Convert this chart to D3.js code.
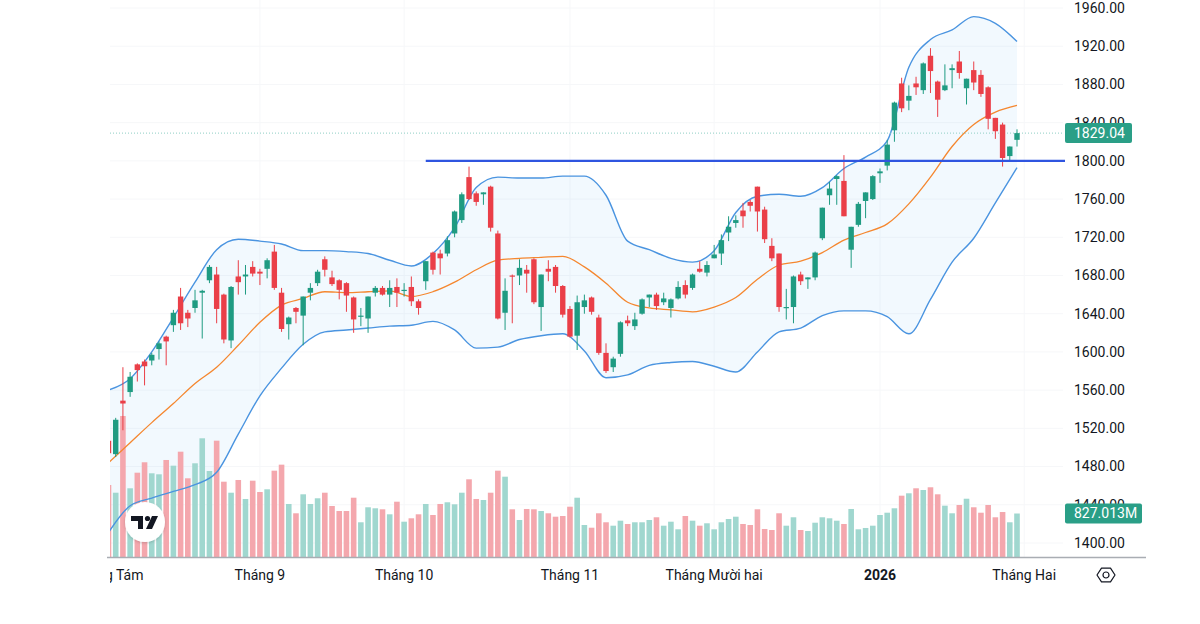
<!DOCTYPE html>
<meta charset="utf-8">
<style>
    body { margin: 0; background: #fff; }
    svg text { font-family: Roboto, "DejaVu Sans", sans-serif; fill: #131722; }
</style>
<svg id="chart"></svg>
<script src="https://d3js.org/d3.v7.min.js"></script>
<script>

    var width = 1200,
        height = 624;

    // daily candles, index 0 = 1 Aug 2025 (cut by the left edge), index 126 = 30 Jan 2026
    var opens = [1507, 1493, 1549, 1558, 1587, 1590, 1591, 1603, 1616, 1628,
        1658, 1641, 1646, 1662, 1675, 1681, 1660, 1612, 1679, 1679,
        1689, 1684, 1687, 1705, 1662, 1629, 1646, 1638, 1662, 1672,
        1697, 1678, 1675, 1672, 1657, 1637, 1635, 1662, 1667, 1660,
        1668, 1664, 1668, 1653, 1674, 1704, 1703, 1703, 1724, 1738,
        1783, 1766, 1765, 1773, 1724, 1641, 1680, 1680, 1686, 1697,
        1647, 1687, 1689, 1669, 1645, 1617, 1647, 1657, 1636, 1599,
        1584, 1598, 1633, 1627, 1640, 1657, 1660, 1652, 1646, 1656,
        1670, 1667, 1687, 1683, 1698, 1703, 1725, 1735, 1748, 1757,
        1773, 1749, 1711, 1703, 1646, 1647, 1681, 1676, 1678, 1719,
        1764, 1781, 1779, 1707, 1733, 1758, 1760, 1787, 1795, 1832,
        1881, 1863, 1881, 1874, 1910, 1883, 1874, 1895, 1904, 1876,
        1895, 1890, 1877, 1845, 1838, 1805, 1822];
    var highs = [1510, 1531, 1584, 1579, 1588, 1592, 1599, 1611, 1617, 1644,
        1667, 1644, 1665, 1665, 1691, 1689, 1661, 1669, 1696, 1691,
        1695, 1687, 1698, 1712, 1667, 1637, 1647, 1658, 1672, 1686,
        1700, 1685, 1676, 1673, 1658, 1646, 1658, 1669, 1669, 1675,
        1677, 1672, 1679, 1655, 1695, 1705, 1707, 1721, 1748, 1767,
        1794, 1768, 1767, 1774, 1727, 1677, 1681, 1697, 1691, 1698,
        1681, 1696, 1691, 1670, 1648, 1659, 1660, 1658, 1639, 1609,
        1595, 1632, 1638, 1641, 1656, 1660, 1662, 1662, 1656, 1674,
        1675, 1682, 1695, 1695, 1712, 1723, 1742, 1743, 1756, 1759,
        1773, 1752, 1719, 1703, 1666, 1680, 1684, 1678, 1705, 1751,
        1778, 1785, 1806, 1731, 1757, 1767, 1785, 1792, 1822, 1862,
        1887, 1879, 1888, 1903, 1918, 1884, 1901, 1901, 1915, 1886,
        1904, 1895, 1878, 1845, 1840, 1815, 1833];
    var lows = [1492, 1490, 1518, 1553, 1569, 1565, 1586, 1592, 1586, 1621,
        1623, 1626, 1641, 1614, 1672, 1630, 1609, 1604, 1660, 1660,
        1679, 1670, 1677, 1665, 1621, 1613, 1630, 1607, 1654, 1669,
        1679, 1669, 1655, 1642, 1620, 1627, 1620, 1658, 1659, 1647,
        1647, 1658, 1648, 1639, 1665, 1681, 1681, 1700, 1720, 1735,
        1759, 1753, 1754, 1726, 1634, 1623, 1630, 1670, 1662, 1650,
        1622, 1674, 1662, 1636, 1615, 1602, 1640, 1639, 1597, 1578,
        1579, 1595, 1627, 1623, 1639, 1647, 1644, 1649, 1636, 1655,
        1656, 1665, 1683, 1679, 1698, 1691, 1716, 1730, 1730, 1747,
        1726, 1714, 1695, 1642, 1634, 1630, 1670, 1666, 1675, 1717,
        1754, 1754, 1742, 1688, 1731, 1740, 1759, 1777, 1790, 1820,
        1851, 1853, 1869, 1870, 1871, 1846, 1873, 1876, 1886, 1859,
        1874, 1867, 1833, 1823, 1794, 1799, 1815];
    var closes = [1494, 1529, 1546, 1574, 1581, 1585, 1597, 1609, 1611, 1641,
        1630, 1635, 1654, 1664, 1689, 1645, 1613, 1668, 1673, 1681,
        1682, 1682, 1696, 1667, 1624, 1636, 1642, 1658, 1667, 1684,
        1686, 1671, 1665, 1659, 1634, 1638, 1658, 1667, 1660, 1667,
        1662, 1665, 1653, 1646, 1695, 1686, 1698, 1717, 1747, 1765,
        1760, 1757, 1767, 1730, 1635, 1664, 1679, 1688, 1682, 1652,
        1681, 1684, 1669, 1639, 1616, 1652, 1654, 1642, 1599, 1580,
        1593, 1631, 1630, 1634, 1655, 1660, 1648, 1656, 1655, 1668,
        1660, 1681, 1684, 1691, 1702, 1717, 1731, 1738, 1742, 1753,
        1747, 1718, 1698, 1647, 1647, 1679, 1674, 1678, 1704, 1751,
        1771, 1784, 1742, 1731, 1755, 1767, 1784, 1789, 1817, 1861,
        1855, 1868, 1877, 1902, 1894, 1864, 1879, 1897, 1892, 1886,
        1882, 1870, 1844, 1831, 1803, 1815, 1829.04];
    // volume in millions
    var volumes = [1363, 1218, 2660, 1301, 1594, 1790, 1583, 1564, 1833, 1726,
        1989, 1489, 1771, 2241, 1626, 2196, 1425, 1218, 1457, 1100,
        1444, 1231, 1282, 1632, 1745, 1006, 831, 1188, 1006, 1113,
        1218, 968, 874, 874, 1124, 662, 944, 925, 906, 812,
        1049, 673, 737, 812, 1006, 799, 1006, 1038, 1000, 1218,
        1470, 1100, 1081, 1218, 1632, 1519, 906, 705, 912, 906,
        874, 831, 767, 780, 955, 1124, 611, 560, 831, 662,
        598, 692, 630, 662, 662, 705, 756, 598, 673, 530,
        780, 692, 598, 643, 530, 662, 724, 767, 630, 611,
        906, 536, 517, 831, 598, 756, 517, 498, 654, 756,
        737, 692, 630, 912, 530, 555, 598, 799, 842, 925,
        1162, 1207, 1301, 1269, 1320, 1188, 974, 831, 987, 1105,
        944, 842, 987, 756, 855, 662, 827.013];

    var bandAt = d3.range(0, 127, 3);
    var bbUpper = [1560, 1572, 1600, 1636, 1673, 1707, 1718, 1716, 1713, 1706,
        1706, 1705, 1703, 1696, 1690, 1703, 1730, 1772, 1783, 1782,
        1782, 1784, 1784, 1764, 1716, 1707, 1698, 1694, 1706, 1746,
        1763, 1765, 1763, 1772, 1792, 1804, 1821, 1898, 1927, 1937,
        1951, 1944, 1925];
    var bbBasis = [1484, 1505, 1526, 1546, 1567, 1584, 1607, 1631, 1649, 1656,
        1663, 1662, 1663, 1664, 1658, 1663, 1673, 1686, 1696, 1698,
        1699, 1700, 1689, 1672, 1652, 1646, 1644, 1642, 1647, 1657,
        1676, 1691, 1695, 1704, 1717, 1725, 1734, 1755, 1783, 1815,
        1838, 1851, 1858];
    var bbLower = [1411, 1439, 1447, 1454, 1461, 1474, 1514, 1554, 1583, 1608,
        1621, 1623, 1625, 1627, 1628, 1632, 1623, 1604, 1605, 1613,
        1617, 1619, 1601, 1573, 1576, 1586, 1589, 1590, 1585, 1579,
        1600, 1621, 1625, 1638, 1643, 1643, 1637, 1619, 1655, 1694,
        1719, 1756, 1793];

    var priceTicks = d3.range(1400, 1961, 40);
    var monthTicks = [0, 21, 41, 64, 84, 107, 127];
    var monthLabels = ["Tháng Tám", "Tháng 9", "Tháng 10", "Tháng 11", "Tháng Mười hai", "2026", "Tháng Hai"];

    var supportLevel = 1800, supportFrom = 44;
    var lastPrice = 1829.04, lastVolume = 827.013;

    var upColor = "#1f9b82", downColor = "#ea3f48";
    var upVol = "#a0d7cf", downVol = "#f4a7ad";

    var svg = d3.select("#chart")
        .attr("width", width)
        .attr("height", height);

    var x = d3.scaleLinear().domain([0, 126]).range([108.5, 1017]);
    var y = d3.scaleLinear().domain([1400, 1960]).range([543, 8]);
    var yv = d3.scaleLinear().domain([0, 1000]).range([557.5, 504.3]);

    var plotRight = 1063, axisY = 557.5;

    svg.append("defs").append("clipPath").attr("id", "plot")
        .append("rect").attr("x", 110).attr("y", 0).attr("width", plotRight - 110).attr("height", axisY);
    svg.select("defs").append("clipPath").attr("id", "xlab")
        .append("rect").attr("x", 110).attr("y", axisY).attr("width", 1000).attr("height", 60);
    var shadow = svg.select("defs").append("filter").attr("id", "shadow")
        .attr("x", "-50%").attr("y", "-50%").attr("width", "200%").attr("height", "200%");
    shadow.append("feDropShadow").attr("dx", 0).attr("dy", 1).attr("stdDeviation", 1.5)
        .attr("flood-color", "#000").attr("flood-opacity", 0.18);

    // faint grid
    var grid = svg.append("g").attr("clip-path", "url(#plot)");
    grid.selectAll(".hg").data(priceTicks).enter().append("line")
        .attr("x1", 110).attr("x2", plotRight)
        .attr("y1", function (d) { return y(d); }).attr("y2", function (d) { return y(d); })
        .attr("stroke", "#f6f7f9");
    grid.selectAll(".vg").data(monthTicks).enter().append("line")
        .attr("x1", function (d) { return x(d); }).attr("x2", function (d) { return x(d); })
        .attr("y1", 0).attr("y2", axisY)
        .attr("stroke", "#f6f7f9");

    var plot = svg.append("g").attr("clip-path", "url(#plot)");

    var bands = bandAt.map(function (i, k) {
        return { i: i, up: bbUpper[k], mid: bbBasis[k], low: bbLower[k] };
    });

    plot.append("path")
        .datum(bands)
        .attr("fill", "rgba(33,150,243,0.06)")
        .attr("d", d3.area().curve(d3.curveMonotoneX)
            .x(function (d) { return x(d.i); })
            .y0(function (d) { return y(d.low); })
            .y1(function (d) { return y(d.up); }));

    // volume
    plot.selectAll(".vol")
        .data(volumes)
        .enter().append("rect")
        .attr("x", function (d, i) { return x(i) - 2.8; })
        .attr("width", 5.6)
        .attr("y", function (d) { return yv(d); })
        .attr("height", function (d) { return axisY - yv(d); })
        .attr("fill", function (d, i) { return closes[i] >= opens[i] ? upVol : downVol; });

    // bands
    ["up", "low"].forEach(function (k) {
        plot.append("path")
            .datum(bands)
            .attr("fill", "none")
            .attr("stroke", "#4a94e0")
            .attr("stroke-width", 1.4)
            .attr("d", d3.line().curve(d3.curveMonotoneX)
                .x(function (d) { return x(d.i); })
                .y(function (d) { return y(d[k]); }));
    });
    plot.append("path")
        .datum(bands)
        .attr("fill", "none")
        .attr("stroke", "#f5872f")
        .attr("stroke-width", 1.3)
        .attr("d", d3.line().curve(d3.curveMonotoneX)
            .x(function (d) { return x(d.i); })
            .y(function (d) { return y(d.mid); }));

    // last price dotted line
    plot.append("line")
        .attr("x1", 110).attr("x2", plotRight)
        .attr("y1", y(lastPrice)).attr("y2", y(lastPrice))
        .attr("stroke", "#8fcfc5")
        .attr("stroke-dasharray", "1 2");

    // candles
    var candle = plot.selectAll(".candle")
        .data(closes)
        .enter().append("g")
        .attr("class", "candle");

    candle.append("line")
        .attr("x1", function (d, i) { return x(i); })
        .attr("x2", function (d, i) { return x(i); })
        .attr("y1", function (d, i) { return y(highs[i]); })
        .attr("y2", function (d, i) { return y(lows[i]); })
        .attr("stroke", function (d, i) { return d >= opens[i] ? upColor : downColor; })
        .attr("stroke-width", 1);

    candle.append("rect")
        .attr("x", function (d, i) { return x(i) - 2.7; })
        .attr("width", 5.4)
        .attr("y", function (d, i) { return y(Math.max(d, opens[i])); })
        .attr("height", function (d, i) { return Math.max(1.2, Math.abs(y(d) - y(opens[i]))); })
        .attr("fill", function (d, i) { return d >= opens[i] ? upColor : downColor; });

    // support line
    svg.append("line")
        .attr("x1", x(supportFrom)).attr("x2", plotRight + 2)
        .attr("y1", y(supportLevel)).attr("y2", y(supportLevel))
        .attr("stroke", "#2f55e0")
        .attr("stroke-width", 2.4);

    // bottom axis line
    svg.append("line")
        .attr("x1", 107).attr("x2", 1146)
        .attr("y1", axisY).attr("y2", axisY)
        .attr("stroke", "#a9adb3")
        .attr("stroke-width", 1.5);

    // price axis
    svg.selectAll(".ptick")
        .data(priceTicks)
        .enter().append("text")
        .attr("x", 1074)
        .attr("y", function (d) { return y(d); })
        .attr("dy", "0.35em")
        .style("font-size", "14px")
        .text(function (d) { return d.toFixed(2); });

    // month labels
    svg.append("g").attr("clip-path", "url(#xlab)")
        .selectAll(".mtick")
        .data(monthTicks)
        .enter().append("text")
        .attr("x", function (d) { return x(d); })
        .attr("y", 580)
        .attr("text-anchor", "middle")
        .style("font-size", "14px")
        .style("font-weight", function (d, i) { return monthLabels[i] === "2026" ? "bold" : "normal"; })
        .text(function (d, i) { return monthLabels[i]; });

    // last value tags
    var tags = [
        { v: y(lastPrice), w: 67, txt: lastPrice.toFixed(2) },
        { v: yv(lastVolume), w: 77, txt: lastVolume.toFixed(3) + "M" }
    ];
    var tag = svg.selectAll(".tag").data(tags).enter().append("g");
    tag.append("rect")
        .attr("x", 1065).attr("y", function (d) { return d.v - 10; })
        .attr("width", function (d) { return d.w; }).attr("height", 20)
        .attr("rx", 2)
        .attr("fill", "#2a9f87");
    tag.append("text")
        .attr("x", 1074).attr("y", function (d) { return d.v; })
        .attr("dy", "0.35em")
        .style("font-size", "14px")
        .style("fill", "#fff")
        .text(function (d) { return d.txt; });

    // TradingView badge
    var logo = svg.append("g").attr("transform", "translate(145,522)");
    logo.append("circle").attr("r", 20).attr("fill", "#fff").attr("filter", "url(#shadow)");
    logo.append("path").attr("fill", "#131722")
        .attr("d", "M-14,-6H-2V7H-7V-1H-14Z");
    logo.append("circle").attr("cx", 2.5).attr("cy", -3.5).attr("r", 2.6).attr("fill", "#131722");
    logo.append("path").attr("fill", "#131722")
        .attr("d", "M7,-6H13L7,7H1Z");

    // settings icon
    var gear = svg.append("g").attr("transform", "translate(1106,575)");
    gear.append("path")
        .attr("fill", "none").attr("stroke", "#131722").attr("stroke-width", 1.2)
        .attr("stroke-linejoin", "round")
        .attr("d", d3.line()(d3.range(6).map(function (k) {
            var a = Math.PI / 3 * k;
            return [9 * Math.cos(a), 8 * Math.sin(a)];
        })) + "Z");
    gear.append("circle").attr("r", 3).attr("fill", "none")
        .attr("stroke", "#131722").attr("stroke-width", 1.2);

</script>
